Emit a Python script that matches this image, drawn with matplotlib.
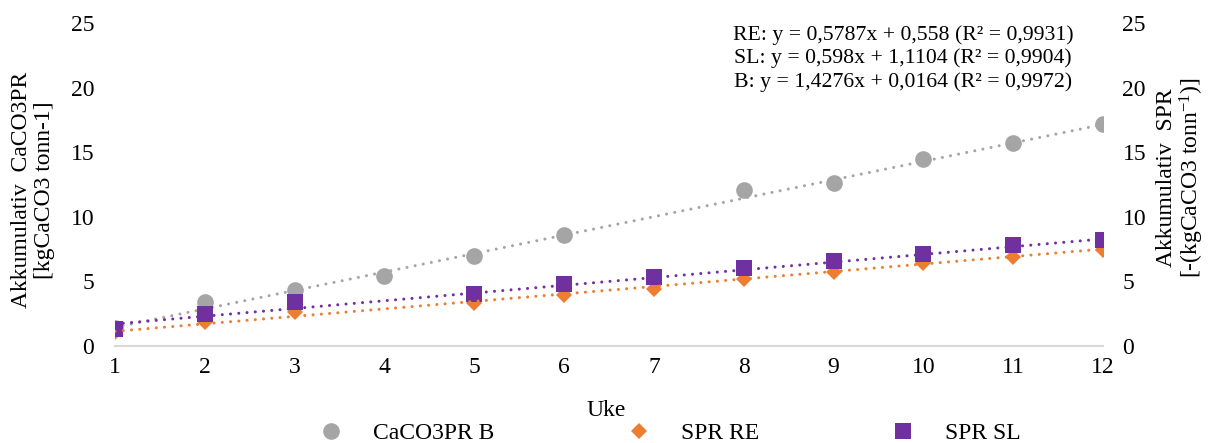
import numpy as np
import matplotlib.pyplot as plt
from matplotlib.lines import Line2D

plt.rcParams['font.family'] = ['Liberation Serif', 'DejaVu Serif']
plt.rcParams['mathtext.fontset'] = 'custom'
plt.rcParams['mathtext.rm'] = 'Liberation Serif'
plt.rcParams['mathtext.it'] = 'Liberation Serif:italic'
plt.rcParams['font.size'] = 17

# data (weeks 1-12, gaps where no point is shown)
weeks = np.arange(1, 13)
caco3pr_b = [1.4, 3.4, 4.3, 5.4, 6.95, 8.6, np.nan, 12.1, 12.6, 14.5, 15.7, 17.2]
spr_re = [1.05, 1.85, 2.6, np.nan, 3.3, 3.95, 4.45, 5.2, 5.75, 6.4, 6.9, 7.45]
spr_sl = [1.3, 2.5, 3.4, np.nan, 4.05, 4.8, 5.35, 6.05, 6.55, 7.15, 7.8, 8.2]

# linear trendlines (slope, intercept) as printed on the chart
trend_b = (1.4276, 0.0164)
trend_re = (0.5787, 0.558)
trend_sl = (0.598, 1.1104)

equations = ['RE: y = 0,5787x + 0,558 (R² = 0,9931)',
             'SL: y = 0,598x + 1,1104 (R² = 0,9904)',
             'B: y = 1,4276x + 0,0164 (R² = 0,9972)']

grey = '#A5A5A5'
orange = '#ED7D31'
purple = '#7030A0'

W, H = 1209, 443
fig = plt.figure(figsize=(W / 100, H / 100), dpi=100)
ax = fig.add_axes([115 / W, 97 / H, 988 / W, 323 / H])
ax2 = ax.twinx()

for a in (ax, ax2):
    a.set_xlim(1, 12)
    a.set_ylim(0, 25)
    a.set_yticks(range(0, 26, 5))
    for s in a.spines.values():
        s.set_visible(False)
    a.patch.set_visible(False)
ax.spines['bottom'].set_visible(True)
ax.spines['bottom'].set_color('#D9D9D9')
ax.spines['bottom'].set_linewidth(1.5)
ax.set_xticks(weeks)
ax.tick_params(axis='x', length=0, pad=8)
ax.tick_params(axis='y', length=0, pad=15)
ax2.tick_params(axis='y', length=0, pad=14)

dot = dict(linestyle=(0, (0.01, 2.7)), dash_capstyle='round', lw=2.2)
xt = np.array([weeks[0], weeks[-1]])

ax.plot(weeks, caco3pr_b, 'o', color=grey, ms=12, mew=0, zorder=2)
ax.plot(xt, trend_b[0] * xt + trend_b[1], color=grey, zorder=3, **dot)

ax2.plot(weeks, spr_re, 'D', color=orange, ms=8.5, mew=0, zorder=2)
ax2.plot(weeks, spr_sl, 's', color=purple, ms=11, mew=0, zorder=2)
ax2.plot(xt, trend_re[0] * xt + trend_re[1], color=orange, zorder=3, **dot)
ax2.plot(xt, trend_sl[0] * xt + trend_sl[1], color=purple, zorder=3, **dot)

for i, eq in enumerate(equations):
    fig.text(903 / W, 1 - (35 + 23.5 * i) / H, eq, ha='center', va='center', fontsize=15.7)

fig.text(22 / W, 1 - 190 / H, 'Akkumulativ  CaCO3PR', rotation=90, ha='center', va='center')
fig.text(45 / W, 1 - 190 / H, '[kgCaCO3 tonn-1]', rotation=90, ha='center', va='center')
fig.text(1167 / W, 1 - 178 / H, 'Akkumulativ  SPR', rotation=90, ha='center', va='center')
fig.text(1192 / W, 1 - 178 / H, '[-(kgCaCO3 tonn$^{-1}$)]', rotation=90, ha='center', va='center')

fig.text(606 / W, 1 - 410 / H, 'Uke', ha='center', va='center')

handles = [Line2D([], [], ls='', marker='o', color=grey, ms=12, mew=0),
           Line2D([], [], ls='', marker='D', color=orange, ms=8.5, mew=0),
           Line2D([], [], ls='', marker='s', color=purple, ms=11, mew=0)]
fig.legend(handles, ['CaCO3PR B', 'SPR RE', 'SPR SL'], loc='center',
           bbox_to_anchor=(670 / W, 1 - 433 / H), ncol=3, frameon=False,
           handlelength=1, handletextpad=1.28, columnspacing=5.6,
           borderpad=0, borderaxespad=0)

fig.savefig('out.png', dpi=100)
